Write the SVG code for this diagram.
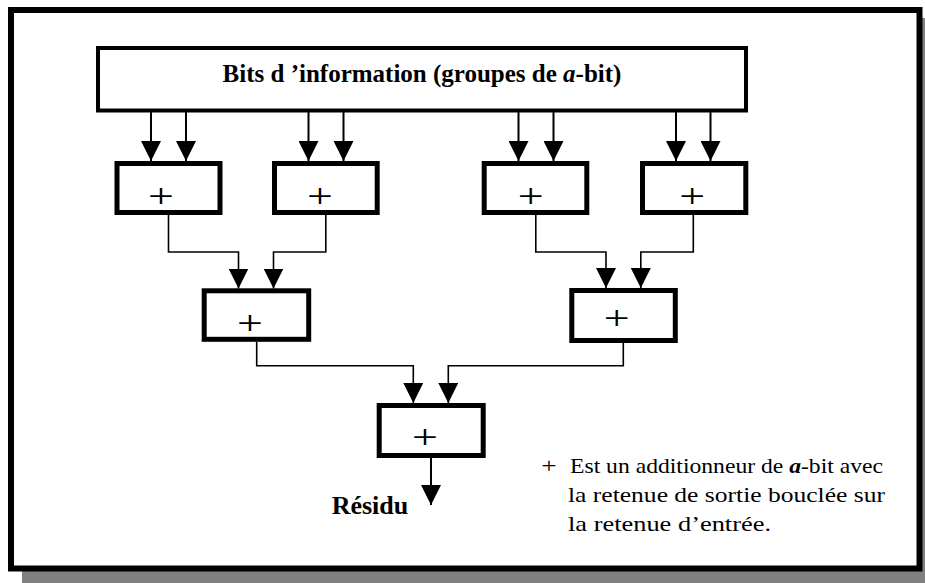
<svg xmlns="http://www.w3.org/2000/svg" width="925" height="583" viewBox="0 0 925 583">
  <style>
    .box { fill: #ffffff; stroke: #000000; stroke-width: 5; }
    .hdr { fill: #ffffff; stroke: #000000; stroke-width: 4; }
    .feed { fill: none; stroke: #000000; stroke-width: 2; }
    .wire { fill: none; stroke: #000000; stroke-width: 1.6; }
    .plus { font-family: "Liberation Serif", "Times New Roman", serif; font-size: 34px; fill: #000000; text-anchor: middle; }
    .bold { font-family: "Liberation Serif", "Times New Roman", serif; font-weight: bold; fill: #000000; }
    .legend { font-family: "Liberation Serif", "Times New Roman", serif; font-size: 21px; fill: #000000; }
  </style>
  <defs>
    <marker id="arrow" markerUnits="userSpaceOnUse" markerWidth="20" markerHeight="20" viewBox="0 0 20 20" refX="20" refY="10" orient="auto">
      <path d="M0,0 L20,10 L0,20 Z" fill="#000000"/>
    </marker>
  </defs>

  <g id="frame">
    <rect x="22" y="18" width="915" height="570" fill="#808080"/>
    <rect x="11" y="10" width="908.5" height="558.5" fill="#ffffff" stroke="#000000" stroke-width="6"/>
  </g>

  <g id="connectors">
    <path class="feed" d="M151,112 V161" marker-end="url(#arrow)"/>
    <path class="feed" d="M186,112 V161" marker-end="url(#arrow)"/>
    <path class="feed" d="M308.5,112 V161" marker-end="url(#arrow)"/>
    <path class="feed" d="M343.5,112 V161" marker-end="url(#arrow)"/>
    <path class="feed" d="M518.5,112 V161" marker-end="url(#arrow)"/>
    <path class="feed" d="M553.5,112 V161" marker-end="url(#arrow)"/>
    <path class="feed" d="M676,112 V161" marker-end="url(#arrow)"/>
    <path class="feed" d="M710.5,112 V161" marker-end="url(#arrow)"/>

    <path class="wire" d="M168.5,215 V252 H238.5 V288.5" marker-end="url(#arrow)"/>
    <path class="wire" d="M325.8,215 V252 H273.5 V288.5" marker-end="url(#arrow)"/>
    <path class="wire" d="M535.8,215 V252 H606 V288" marker-end="url(#arrow)"/>
    <path class="wire" d="M693.3,215 V252 H640.8 V288" marker-end="url(#arrow)"/>

    <path class="wire" d="M256.7,342 V365.7 H413.3 V403" marker-end="url(#arrow)"/>
    <path class="wire" d="M623.3,343 V365.7 H448.3 V403" marker-end="url(#arrow)"/>

    <path class="feed" d="M431,458 V505" marker-end="url(#arrow)"/>
  </g>

  <g id="header">
    <rect class="hdr" x="98" y="48" width="648" height="62.5"/>
    <text class="bold" x="422" y="82" font-size="25" text-anchor="middle">Bits d ’information (groupes de <tspan font-style="italic">a</tspan>-bit)</text>
  </g>

  <g id="add1">
    <rect class="box" x="117" y="163.5" width="103" height="49"/>
    <text class="plus" transform="translate(161,206.5) scale(1.35,1)">+</text>
  </g>
  <g id="add2">
    <rect class="box" x="274.5" y="163.5" width="102.7" height="49"/>
    <text class="plus" transform="translate(320,206.5) scale(1.35,1)">+</text>
  </g>
  <g id="add3">
    <rect class="box" x="484.2" y="163.5" width="102.6" height="49"/>
    <text class="plus" transform="translate(530.7,206.5) scale(1.35,1)">+</text>
  </g>
  <g id="add4">
    <rect class="box" x="642.5" y="163.5" width="103.3" height="49"/>
    <text class="plus" transform="translate(692.3,206.5) scale(1.35,1)">+</text>
  </g>
  <g id="add5">
    <rect class="box" x="204.2" y="290.8" width="104.5" height="48.5"/>
    <text class="plus" transform="translate(250,333.5) scale(1.35,1)">+</text>
  </g>
  <g id="add6">
    <rect class="box" x="571.8" y="290.5" width="103.5" height="50"/>
    <text class="plus" transform="translate(616.7,328.5) scale(1.35,1)">+</text>
  </g>
  <g id="add7">
    <rect class="box" x="379.2" y="405.5" width="104" height="50"/>
    <text class="plus" transform="translate(425,447.5) scale(1.35,1)">+</text>
  </g>

  <g id="residu">
    <text class="bold" x="331.7" y="514" font-size="26">Résidu</text>
  </g>

  <g id="legend">
    <text class="legend" transform="translate(549,473) scale(1.3,1)" text-anchor="middle">+</text>
    <text class="legend" x="570" y="473" textLength="313" lengthAdjust="spacingAndGlyphs">Est un additionneur de <tspan font-weight="bold" font-style="italic">a</tspan>-bit avec</text>
    <text class="legend" x="568" y="502" textLength="317" lengthAdjust="spacingAndGlyphs">la retenue de sortie bouclée sur</text>
    <text class="legend" x="568" y="531" textLength="203" lengthAdjust="spacingAndGlyphs">la retenue d’entrée.</text>
  </g>
</svg>
